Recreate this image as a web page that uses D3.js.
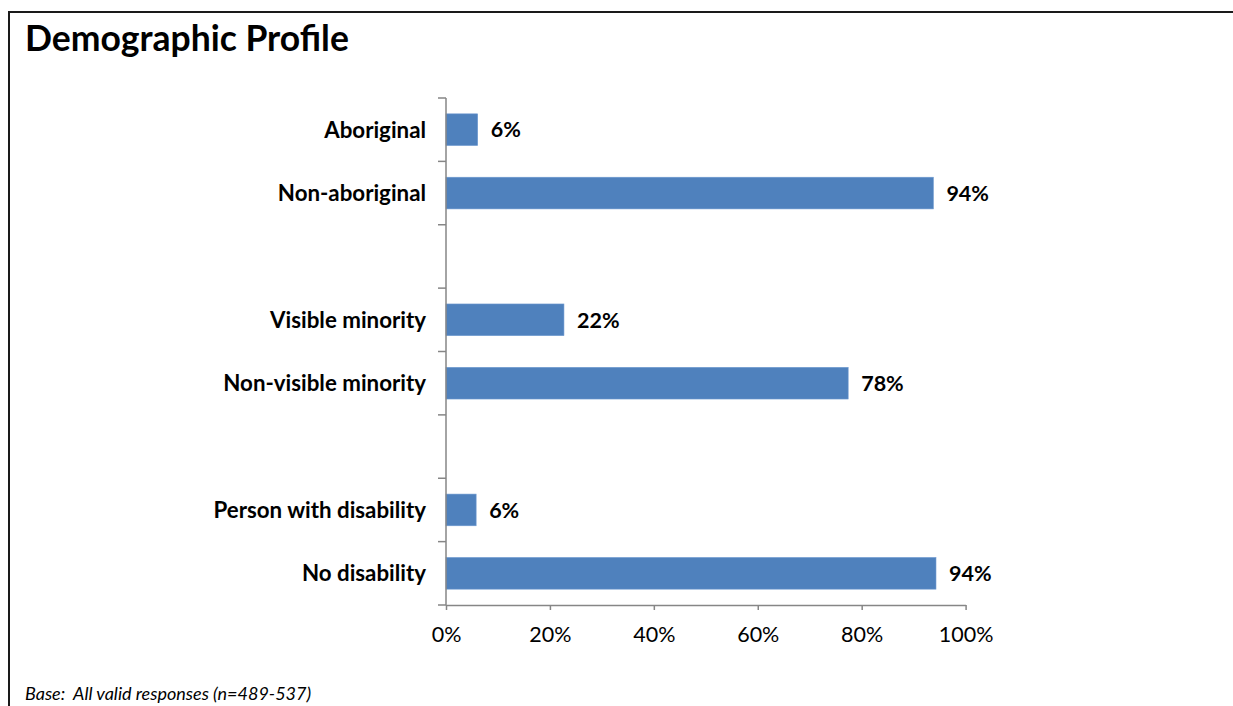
<!DOCTYPE html>
<html>
<head>
<meta charset="utf-8">
<script src="https://cdn.jsdelivr.net/npm/d3@7/dist/d3.min.js"></script>
<style>
  html, body { margin: 0; padding: 0; background: #fff; }
  svg { display: block; }
  text { font-family: Lato, "Open Sans", sans-serif; }
</style>
</head>
<body>
<script>
// ---- data ----
const categories = ["Aboriginal", "Non-aboriginal", "", "Visible minority", "Non-visible minority", " ", "Person with disability", "No disability"];
const seriesValues = [6.1, 93.8, null, 22.7, 77.4, null, 5.8, 94.3];
const seriesLabels = ["6%", "94%", "", "22%", "78%", "", "6%", "94%"];
const tickValues = [0, 20, 40, 60, 80, 100];
const title = "Demographic Profile";
const note = "Base:  All valid responses (n=489-537)";

const W = 1233, H = 706;
const svg = d3.select("body").append("svg").attr("width", W).attr("height", H);

// frame
svg.append("rect").attr("x", 9).attr("y", 12).attr("width", W + 20).attr("height", H + 20)
  .attr("fill", "none").attr("stroke", "#1a1a1a").attr("stroke-width", 2);

svg.append("text").attr("x", 25).attr("y", 51)
  .attr("font-size", 35.5).attr("font-weight", 700).attr("fill", "#000").text(title);

svg.append("text").attr("x", 25).attr("y", 700)
  .style("white-space", "pre")
  .attr("font-size", 18).attr("font-style", "italic").attr("fill", "#000").text(note);

const x = d3.scaleLinear().domain([0, 100]).range([446, 965.6]);
const y = d3.scaleBand().domain(categories).range([98, 605]).paddingInner(0.5).paddingOuter(0.25);

const data = categories.map((c, i) => ({ c, v: seriesValues[i], l: seriesLabels[i] }));
const bars = data.filter(d => d.v != null);

// bars
svg.selectAll("rect.bar").data(bars).join("rect").attr("class", "bar")
  .attr("x", x(0)).attr("y", d => y(d.c))
  .attr("width", d => x(d.v) - x(0)).attr("height", y.bandwidth())
  .attr("fill", "#4f81bd").attr("stroke", "#6f9ad0").attr("stroke-width", 0.6);

// value labels
svg.selectAll("text.val").data(bars).join("text").attr("class", "val")
  .attr("x", d => x(d.v) + 13).attr("y", d => y(d.c) + y.bandwidth() / 2)
  .attr("dy", "0.36em").attr("font-size", 21.5).attr("font-weight", 700).attr("fill", "#000")
  .text(d => d.l);

// category labels
svg.selectAll("text.cat").data(bars).join("text").attr("class", "cat")
  .attr("x", 426).attr("y", d => y(d.c) + y.bandwidth() / 2)
  .attr("dy", "0.36em").attr("text-anchor", "end")
  .attr("font-size", 22.3).attr("font-weight", 700).attr("fill", "#000")
  .text(d => d.c);

// y axis: line + ticks at slot boundaries
const boundaries = d3.range(categories.length + 1).map(i => 98 + i * (605 - 98) / categories.length);
const axisColor = "#868686";
svg.append("line").attr("x1", 446).attr("x2", 446).attr("y1", 98).attr("y2", 605)
  .attr("stroke", axisColor).attr("stroke-width", 1.5);
svg.selectAll("line.ytick").data(boundaries).join("line").attr("class", "ytick")
  .attr("x1", 438).attr("x2", 446).attr("y1", d => d).attr("y2", d => d)
  .attr("stroke", axisColor).attr("stroke-width", 1.5);

// x axis
const xAxis = d3.axisBottom(x).tickValues(tickValues).tickFormat(d => d + "%").tickSizeInner(5).tickSizeOuter(0).tickPadding(17);
const gx = svg.append("g").attr("transform", "translate(0,605)").call(xAxis);
gx.select(".domain").attr("stroke", axisColor).attr("stroke-width", 1.5);
gx.selectAll(".tick line").attr("stroke", axisColor).attr("stroke-width", 1.5);
gx.selectAll(".tick text").attr("font-size", 21.5).attr("fill", "#000")
  .attr("font-family", "Lato, 'Open Sans', sans-serif");
</script>
</body>
</html>
